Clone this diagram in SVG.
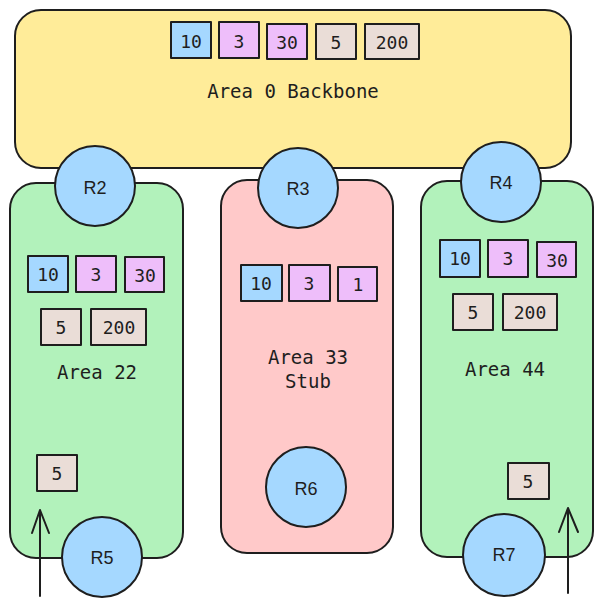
<svg xmlns="http://www.w3.org/2000/svg" width="603" height="607" viewBox="0 0 603 607">
<style>
.s{stroke:#1e1e1e;stroke-width:2;stroke-linejoin:round}
.y{fill:#ffec99}.g{fill:#b2f2bb}.r{fill:#ffc9c9}
.b{fill:#a5d8ff}.v{fill:#eebefa}.e{fill:#eaddd7}
.t{font-family:"DejaVu Sans Mono","Liberation Mono",monospace;font-size:18px;fill:#1e1e1e;text-anchor:middle;dominant-baseline:central}
.l{font-size:19px}
.c{font-family:"Liberation Sans",Arial,sans-serif;font-size:18px;fill:#1e1e1e;text-anchor:middle;dominant-baseline:central}
.a{fill:none;stroke:#1e1e1e;stroke-width:2;stroke-linecap:round;stroke-linejoin:round}
</style>
<g id="area0">
<rect class="s y" x="15" y="10" width="556" height="158" rx="26"/>
<text class="t l" x="293" y="91">Area 0 Backbone</text>
<rect class="s b" x="171" y="22" width="40" height="36"/><text class="t" x="191" y="41">10</text>
<rect class="s v" x="219" y="22" width="40" height="36"/><text class="t" x="239" y="41">3</text>
<rect class="s v" x="267" y="24" width="40" height="35"/><text class="t" x="287" y="42">30</text>
<rect class="s e" x="316" y="24" width="40" height="35"/><text class="t" x="336" y="42">5</text>
<rect class="s e" x="365" y="24" width="54" height="35"/><text class="t" x="392" y="42">200</text>
</g>
<g id="area22">
<rect class="s g" x="10" y="183" width="173" height="375" rx="26"/>
<text class="t l" x="97" y="372">Area 22</text>
<rect class="s b" x="28" y="256" width="40" height="36"/><text class="t" x="48" y="274">10</text>
<rect class="s v" x="76" y="256" width="40" height="36"/><text class="t" x="96" y="274">3</text>
<rect class="s v" x="125" y="257" width="39" height="35"/><text class="t" x="145" y="275">30</text>
<rect class="s e" x="41" y="309" width="40" height="36"/><text class="t" x="61" y="327">5</text>
<rect class="s e" x="91" y="309" width="55" height="36"/><text class="t" x="119" y="327">200</text>
<rect class="s e" x="37" y="455" width="40" height="36"/><text class="t" x="57" y="473">5</text>
</g>
<g id="area33">
<rect class="s r" x="221" y="180" width="172" height="373" rx="26"/>
<text class="t l" x="308" y="357">Area 33</text>
<text class="t l" x="308" y="381">Stub</text>
<rect class="s b" x="241" y="265" width="41" height="36"/><text class="t" x="261" y="283">10</text>
<rect class="s v" x="289" y="265" width="41" height="36"/><text class="t" x="309" y="283">3</text>
<rect class="s v" x="338" y="267" width="39" height="34"/><text class="t" x="358" y="284">1</text>
</g>
<g id="area44">
<rect class="s g" x="421" y="181" width="172" height="376" rx="26"/>
<text class="t l" x="505" y="369">Area 44</text>
<rect class="s b" x="440" y="240" width="40" height="37"/><text class="t" x="460" y="258">10</text>
<rect class="s v" x="488" y="240" width="40" height="37"/><text class="t" x="508" y="258">3</text>
<rect class="s v" x="537" y="242" width="39" height="35"/><text class="t" x="557" y="260">30</text>
<rect class="s e" x="453" y="294" width="40" height="36"/><text class="t" x="473" y="312">5</text>
<rect class="s e" x="503" y="294" width="54" height="36"/><text class="t" x="530" y="312">200</text>
<rect class="s e" x="508" y="463" width="41" height="36"/><text class="t" x="528" y="481">5</text>
</g>
<g id="R2"><circle class="s b" cx="95" cy="186" r="40"/><text class="c" x="95" y="188">R2</text></g>
<g id="R3"><circle class="s b" cx="298" cy="188" r="40"/><text class="c" x="298" y="189">R3</text></g>
<g id="R4"><circle class="s b" cx="501" cy="182" r="40"/><text class="c" x="501" y="183">R4</text></g>
<g id="R6"><circle class="s b" cx="306" cy="487" r="40"/><text class="c" x="306" y="489">R6</text></g>
<g id="R5"><circle class="s b" cx="102" cy="557" r="40"/><text class="c" x="102" y="558">R5</text></g>
<g id="R7"><circle class="s b" cx="504" cy="555" r="41"/><text class="c" x="504" y="555">R7</text></g>
<g id="connectors">
<path class="a" d="M40 596 L40 510 M32 533 L40 510 L49 533"/>
<path class="a" d="M568 593 L568 508 M559 532 L568 508 L578 532"/>
</g>
</svg>
